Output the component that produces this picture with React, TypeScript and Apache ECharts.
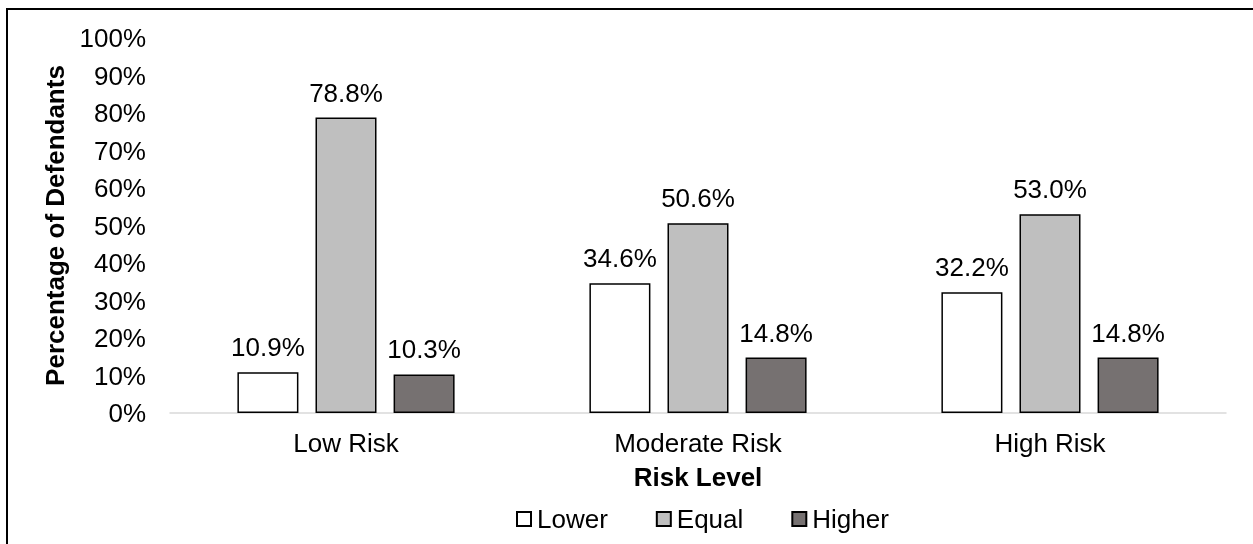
import React, { useEffect, useRef } from "react";
import * as echarts from "echarts";

const categories = ["Low Risk", "Moderate Risk", "High Risk"];
const seriesNames = ["Lower", "Equal", "Higher"];
const lowerValues = [10.9, 34.6, 32.2];
const equalValues = [78.8, 50.6, 53.0];
const higherValues = [10.3, 14.8, 14.8];
const barColors = ["#ffffff", "#bfbfbf", "#767171"];

const FONT = "'Liberation Sans', Arial, sans-serif";
const SIZE = 26;

export default function App() {
  const ref = useRef<HTMLDivElement>(null);

  useEffect(() => {
    if (!ref.current) return;
    const chart = echarts.init(ref.current, null, { renderer: "svg" });
    const values = [lowerValues, equalValues, higherValues];

    chart.setOption({
      animation: false,
      textStyle: { fontFamily: FONT, color: "#000" },
      grid: { left: 170, right: 27, top: 38, bottom: 131, containLabel: false },
      legend: {
        data: seriesNames,
        bottom: 7,
        left: 511,
        itemWidth: 14,
        itemHeight: 14,
        itemGap: 48,
        icon: "rect",
        textStyle: { fontFamily: FONT, fontSize: SIZE, color: "#000", padding: [0, 0, 0, 1] },
      },
      xAxis: {
        type: "category",
        data: categories,
        name: "Risk Level",
        nameLocation: "middle",
        nameGap: 51,
        nameTextStyle: { fontFamily: FONT, fontSize: SIZE, fontWeight: "bold", color: "#000" },
        axisLine: { show: true, lineStyle: { color: "#d9d9d9", width: 1.5 } },
        axisTick: { show: false },
        axisLabel: { fontFamily: FONT, fontSize: SIZE, color: "#000", margin: 17 },
      },
      yAxis: {
        type: "value",
        min: 0,
        max: 100,
        interval: 10,
        name: "Percentage of Defendants",
        nameLocation: "middle",
        nameGap: 102,
        nameTextStyle: { fontFamily: FONT, fontSize: SIZE, fontWeight: "bold", color: "#000" },
        axisLine: { show: false },
        axisTick: { show: false },
        splitLine: { show: false },
        axisLabel: {
          fontFamily: FONT,
          fontSize: SIZE,
          color: "#000",
          margin: 24,
          formatter: (v: number) => `${v}%`,
        },
      },
      series: seriesNames.map((name, i) => ({
        name,
        type: "bar",
        data: values[i],
        barWidth: 61,
        barGap: "28%",
        itemStyle: { color: barColors[i], borderColor: "#000", borderWidth: 1.5 },
        label: {
          show: true,
          position: "top",
          distance: 12,
          fontFamily: FONT,
          fontSize: SIZE,
          color: "#000",
          formatter: (p: any) => `${Number(p.value).toFixed(1)}%`,
        },
      })),
    });

    return () => chart.dispose();
  }, []);

  return (
    <>
      <div
        style={{
          position: "fixed",
          left: 6,
          top: 8,
          width: 1300,
          height: 600,
          border: "2px solid #000",
          boxSizing: "border-box",
        }}
      />
      <div
        ref={ref}
        style={{ position: "fixed", left: 0, top: 0, width: 1253, height: 544 }}
      />
    </>
  );
}
